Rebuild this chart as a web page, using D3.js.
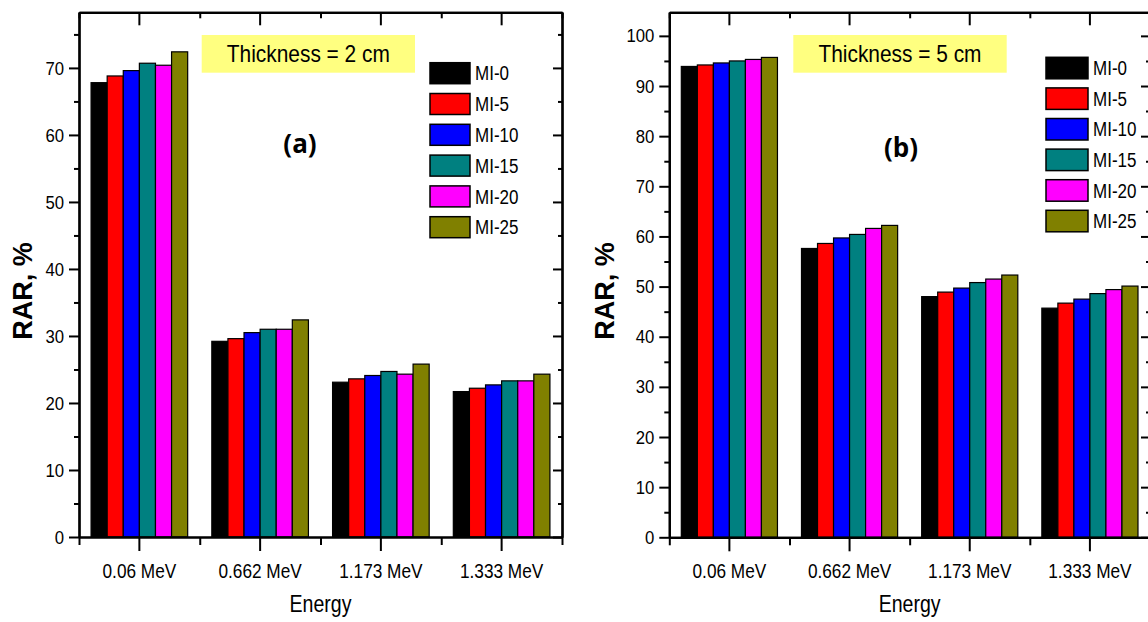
<!DOCTYPE html>
<html>
<head>
<meta charset="utf-8">
<script src="https://cdn.jsdelivr.net/npm/d3@7"></script>
<style>
  html, body { margin: 0; padding: 0; background: #fff; }
  svg { display: block; }
  .narrow { font-family: "Liberation Sans", Arial, sans-serif; }
</style>
</head>
<body>
<svg id="chart" width="1148" height="622"></svg>
<script>
// ---------------- data ----------------
const categories = ["0.06 MeV", "0.662 MeV", "1.173 MeV", "1.333 MeV"];
const seriesNames = ["MI-0", "MI-5", "MI-10", "MI-15", "MI-20", "MI-25"];
const seriesColors = ["#000000", "#ff0000", "#0000ff", "#008080", "#ff00ff", "#808000"];

// Thickness = 2 cm  (panel a)
const rar2_MI0  = [67.8, 29.2, 23.1, 21.7];
const rar2_MI5  = [68.8, 29.6, 23.6, 22.2];
const rar2_MI10 = [69.6, 30.5, 24.1, 22.7];
const rar2_MI15 = [70.7, 31.0, 24.7, 23.3];
const rar2_MI20 = [70.4, 31.0, 24.3, 23.3];
const rar2_MI25 = [72.4, 32.4, 25.8, 24.3];

// Thickness = 5 cm  (panel b)
const rar5_MI0  = [93.9, 57.6, 48.0, 45.7];
const rar5_MI5  = [94.2, 58.6, 48.9, 46.7];
const rar5_MI10 = [94.6, 59.7, 49.7, 47.5];
const rar5_MI15 = [95.0, 60.4, 50.8, 48.6];
const rar5_MI20 = [95.3, 61.6, 51.5, 49.4];
const rar5_MI25 = [95.7, 62.2, 52.3, 50.1];

const yTicksA = [0, 10, 20, 30, 40, 50, 60, 70];
const yMinorA = [5, 15, 25, 35, 45, 55, 65, 75];
const yTicksB = [0, 10, 20, 30, 40, 50, 60, 70, 80, 90, 100];
const yMinorB = [5, 15, 25, 35, 45, 55, 65, 75, 85, 95];

// ---------------- drawing ----------------
const svg = d3.select("#chart");

// emulate a condensed (narrow) face by compressing glyphs horizontally
function condense(sel, f) {
  sel.each(function () {
    const w = this.getComputedTextLength();
    this.setAttribute("textLength", w * f);
    this.setAttribute("lengthAdjust", "spacingAndGlyphs");
  });
}

function drawPanel(cfg) {
  const { left, right, top, bottom, yMax, series, yTicks, yMinor, title, tag, box, tagPos, legend, yLabelX } = cfg;
  const g = svg.append("g");

  const x = d3.scaleBand().domain(categories).range([left, right]).paddingInner(0.2).paddingOuter(0.1);
  const xFull = d3.scaleBand().domain(categories).range([left, right]).padding(0);
  const xEdge = d3.scaleLinear().domain([0, categories.length]).range([left, right]);
  const xs = d3.scaleBand().domain(seriesNames).range([0, x.bandwidth()]).padding(0);
  const y = d3.scaleLinear().domain([0, yMax]).range([bottom, top]);

  // bars
  const grp = g.append("g").selectAll("g").data(categories).join("g")
    .attr("transform", d => `translate(${xFull(d) + (xFull.bandwidth() - x.bandwidth()) / 2},0)`);
  grp.selectAll("rect")
    .data((c, ci) => seriesNames.map((s, si) => ({ s, si, v: series[si][ci] })))
    .join("rect")
    .attr("x", d => xs(d.s))
    .attr("y", d => y(d.v))
    .attr("width", xs.bandwidth())
    .attr("height", d => y(0) - y(d.v))
    .attr("fill", d => seriesColors[d.si])
    .attr("stroke", "#000")
    .attr("stroke-width", 1.2);

  const styleAxis = sel => {
    sel.selectAll("path.domain").attr("stroke", "#000").attr("stroke-width", 2.2);
    sel.selectAll(".tick line").attr("stroke", "#000").attr("stroke-width", 2);
  };

  // left axis
  g.append("g").attr("transform", `translate(${left},0)`)
    .call(d3.axisLeft(y).tickValues(yMinor).tickSize(5).tickFormat("").tickSizeOuter(0)).call(styleAxis);
  const la = g.append("g").attr("transform", `translate(${left},0)`)
    .call(d3.axisLeft(y).tickValues(yTicks).tickSize(10).tickPadding(5).tickSizeOuter(0)).call(styleAxis);
  la.selectAll("text").attr("class", "narrow").attr("font-size", 19).attr("fill", "#000").call(condense, 0.88);
  // right axis (mirror, ticks inward)
  g.append("g").attr("transform", `translate(${right},0)`)
    .call(d3.axisLeft(y).tickValues(yMinor).tickSize(4).tickFormat("").tickSizeOuter(0)).call(styleAxis);
  g.append("g").attr("transform", `translate(${right},0)`)
    .call(d3.axisLeft(y).tickValues(yTicks).tickSize(9).tickFormat("").tickSizeOuter(0)).call(styleAxis);

  // bottom axis
  g.append("g").attr("transform", `translate(0,${bottom})`)
    .call(d3.axisBottom(xEdge).tickValues(d3.range(categories.length + 1)).tickSize(8).tickFormat("").tickSizeOuter(0)).call(styleAxis);
  const ba = g.append("g").attr("transform", `translate(0,${bottom})`)
    .call(d3.axisBottom(xFull).tickSize(14).tickPadding(12).tickSizeOuter(0)).call(styleAxis);
  ba.selectAll("text").attr("class", "narrow").attr("font-size", 21).attr("fill", "#000").call(condense, 0.82);
  // top axis (mirror, ticks inward)
  g.append("g").attr("transform", `translate(0,${top})`)
    .call(d3.axisBottom(xEdge).tickValues(d3.range(categories.length + 1)).tickSize(6).tickFormat("").tickSizeOuter(0)).call(styleAxis);
  g.append("g").attr("transform", `translate(0,${top})`)
    .call(d3.axisBottom(xFull).tickSize(13).tickFormat("").tickSizeOuter(0)).call(styleAxis);

  // axis titles
  g.append("text").attr("class", "narrow")
    .attr("x", (left + right) / 2).attr("y", 612)
    .attr("text-anchor", "middle").attr("font-size", 23).attr("fill", "#000")
    .text("Energy").call(condense, 0.85);
  g.append("text")
    .attr("transform", `translate(${yLabelX},${291}) rotate(-90)`)
    .attr("text-anchor", "middle")
    .attr("font-family", "Liberation Sans, Arial, sans-serif")
    .attr("font-weight", "bold").attr("font-size", 27).attr("fill", "#000")
    .text("RAR, %");

  // thickness box
  g.append("rect").attr("x", box[0]).attr("y", box[1]).attr("width", box[2]).attr("height", box[3])
    .attr("fill", "#ffff80");
  g.append("text").attr("class", "narrow")
    .attr("x", box[0] + box[2] / 2).attr("y", box[1] + 27)
    .attr("text-anchor", "middle").attr("font-size", 24).attr("fill", "#000")
    .text(title).call(condense, 0.87);

  // panel tag
  g.append("text")
    .attr("x", tagPos[0]).attr("y", tagPos[1])
    .attr("text-anchor", "middle")
    .attr("font-family", "Open Sans, Lato, sans-serif")
    .attr("font-weight", "bold").attr("font-size", 26).attr("fill", "#000")
    .text(tag);

  // legend
  const lg = g.append("g").selectAll("g").data(seriesNames).join("g")
    .attr("transform", (d, i) => `translate(${legend.x},${legend.y + i * legend.step})`);
  lg.append("rect").attr("width", legend.w).attr("height", legend.h)
    .attr("fill", (d, i) => seriesColors[i]).attr("stroke", "#000").attr("stroke-width", 1.5);
  lg.append("text").attr("class", "narrow")
    .attr("x", legend.w + 5).attr("y", legend.h / 2).attr("dy", "0.36em")
    .attr("font-size", 20).attr("fill", "#000")
    .text(d => d).call(condense, 0.85);
}

drawPanel({
  left: 79, right: 562, top: 12.3, bottom: 537, yMax: 78.3,
  series: [rar2_MI0, rar2_MI5, rar2_MI10, rar2_MI15, rar2_MI20, rar2_MI25],
  yTicks: yTicksA, yMinor: yMinorA,
  title: "Thickness = 2 cm", tag: "(a)",
  box: [201.7, 35, 213.3, 37.7], tagPos: [300, 153],
  legend: { x: 430, y: 62.7, w: 40, h: 21, step: 30.8 },
  yLabelX: 32
});

drawPanel({
  left: 669.3, right: 1150, top: 12.3, bottom: 537.3, yMax: 104.7,
  series: [rar5_MI0, rar5_MI5, rar5_MI10, rar5_MI15, rar5_MI20, rar5_MI25],
  yTicks: yTicksB, yMinor: yMinorB,
  title: "Thickness = 5 cm", tag: "(b)",
  box: [793.3, 35, 213.4, 37.7], tagPos: [901, 157],
  legend: { x: 1046, y: 57.3, w: 42, h: 21.5, step: 30.6 },
  yLabelX: 614
});
</script>
</body>
</html>
